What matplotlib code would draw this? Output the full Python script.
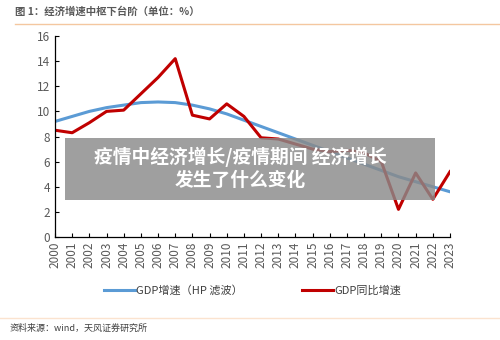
import matplotlib
matplotlib.use("Agg")
import matplotlib.pyplot as plt
from matplotlib.patches import Rectangle

plt.rcParams["font.family"] = ["Noto Sans CJK SC", "DejaVu Sans"]

years = list(range(2000, 2024))
gdp_hp = [9.2, 9.6, 10.0, 10.3, 10.5, 10.7, 10.75, 10.7, 10.5, 10.2, 9.8, 9.3,
          8.8, 8.3, 7.8, 7.3, 6.8, 6.3, 5.8, 5.3, 4.8, 4.4, 4.0, 3.6]
gdp_yoy = [8.5, 8.3, 9.1, 10.0, 10.1, 11.4, 12.7, 14.2, 9.7, 9.4, 10.6, 9.6,
           7.9, 7.8, 7.4, 7.0, 6.8, 6.9, 6.7, 6.0, 2.2, 5.1, 3.0, 5.2]

title = "图 1：经济增速中枢下台阶（单位：%）"
source = "资料来源：wind，天风证券研究所"
overlay = "疫情中经济增长/疫情期间 经济增长\n发生了什么变化"

fig = plt.figure(figsize=(5, 3.4), dpi=100)
ax = fig.add_axes([0.11, 0.303, 0.79, 0.591])

ax.plot(years, gdp_hp, color="#5B9BD5", lw=2.2, label="GDP增速（HP 滤波）")
ax.plot(years, gdp_yoy, color="#C00000", lw=2.2, label="GDP同比增速")

ax.set_xlim(2000, 2023)
ax.set_ylim(0, 16)
ax.set_yticks(range(0, 17, 2))
ax.set_xticks(years)
ax.set_xticklabels([str(y) for y in years], rotation=90)
ax.tick_params(axis="both", direction="in", labelsize=8.5, labelcolor="#595959",
               length=3, width=0.8)
for s in ["top", "right"]:
    ax.spines[s].set_visible(False)
for s in ["left", "bottom"]:
    ax.spines[s].set_linewidth(0.9)

ax.legend(loc="upper center", bbox_to_anchor=(0.5, -0.19), ncol=2, frameon=False,
          fontsize=8, handlelength=2.8, handletextpad=0.1, columnspacing=5.3,
          labelcolor="#404040")

fig.text(0.03, 0.965, title, fontsize=7.5, color="#595959", fontweight="bold",
         va="center")
fig.add_artist(plt.Line2D([0.03, 1.0], [0.928, 0.928], color="#F4C7A0", lw=1))
fig.add_artist(plt.Line2D([0.0, 1.0], [0.065, 0.065], color="#FBE3CF", lw=1))
fig.text(0.02, 0.035, source, fontsize=6.5, color="#404040", va="center")

fig.add_artist(Rectangle((0.13, 0.412), 0.74, 0.182, transform=fig.transFigure,
                         facecolor="#8a8a8a", alpha=0.82, edgecolor="none"))
fig.text(0.48, 0.505, overlay, fontsize=13.5, color="white", fontweight="bold",
         ha="center", va="center", linespacing=1.25)

fig.savefig("out.png", dpi=100)
